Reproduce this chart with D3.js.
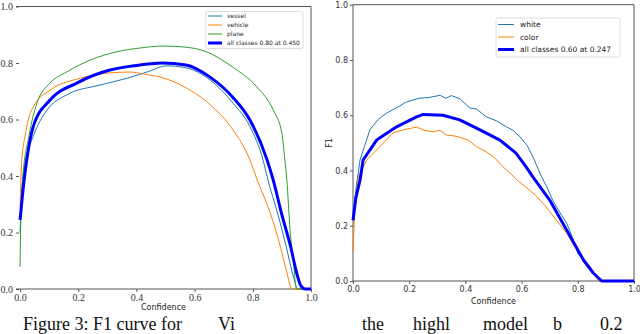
<!DOCTYPE html>
<html>
<head>
<meta charset="utf-8">
<script src="https://cdn.jsdelivr.net/npm/d3@7"></script>
<style>
  body { margin: 0; background: #fff; }
  svg { display: block; }
</style>
</head>
<body>
<svg id="chart" width="640" height="334"></svg>
<script>
// tick values shared by both panels
const ticks = [0, 0.2, 0.4, 0.6, 0.8, 1.0];

// left panel: [confidence, F1]
const vessel = [[0, 0.2], [0.005, 0.33], [0.017, 0.446], [0.045, 0.54], [0.093, 0.634], [0.16, 0.687],
    [0.275, 0.722], [0.368, 0.746], [0.436, 0.768], [0.505, 0.79], [0.574, 0.782], [0.653, 0.74],
    [0.732, 0.658], [0.79, 0.575], [0.835, 0.457], [0.852, 0.386], [0.885, 0.269], [0.915, 0.149],
    [0.94, 0.042], [0.955, 0], [1, 0]];
const vehicle = [[0, 0.29], [0.006, 0.457], [0.017, 0.54], [0.028, 0.598], [0.045, 0.644], [0.103, 0.704],
    [0.195, 0.743], [0.31, 0.765], [0.378, 0.768], [0.424, 0.761], [0.505, 0.743], [0.584, 0.704],
    [0.663, 0.644], [0.732, 0.563], [0.79, 0.457], [0.815, 0.386], [0.86, 0.269], [0.895, 0.149],
    [0.915, 0.067], [0.935, 0], [1, 0]];
const plane = [[0, 0.078], [0.002, 0.22], [0.01, 0.4], [0.03, 0.54], [0.058, 0.658], [0.103, 0.729],
    [0.16, 0.768], [0.24, 0.81], [0.333, 0.84], [0.412, 0.853], [0.49, 0.86], [0.56, 0.857],
    [0.64, 0.84], [0.73, 0.786], [0.814, 0.715], [0.87, 0.634], [0.9, 0.552], [0.91, 0.457],
    [0.917, 0.386], [0.928, 0.209], [0.94, 0.092], [0.95, 0], [1, 0]];
const allLeft = [[0, 0.245], [0.008, 0.33], [0.023, 0.457], [0.045, 0.574], [0.103, 0.669], [0.195, 0.729],
    [0.309, 0.775], [0.39, 0.79], [0.49, 0.8], [0.57, 0.793], [0.653, 0.75], [0.73, 0.68],
    [0.79, 0.598], [0.849, 0.457], [0.87, 0.386], [0.9, 0.262], [0.93, 0.15], [0.95, 0.06],
    [0.965, 0.012], [0.98, 0], [1, 0]];

// right panel
const white = [[0, 0.22], [0.01, 0.33], [0.025, 0.438], [0.06, 0.547], [0.09, 0.585], [0.12, 0.608],
    [0.16, 0.63], [0.19, 0.648], [0.238, 0.662], [0.27, 0.664], [0.31, 0.672], [0.33, 0.661],
    [0.35, 0.671], [0.38, 0.66], [0.416, 0.626], [0.44, 0.622], [0.475, 0.594], [0.51, 0.58],
    [0.546, 0.558], [0.57, 0.545], [0.594, 0.522], [0.62, 0.49], [0.64, 0.45], [0.671, 0.377],
    [0.69, 0.34], [0.712, 0.29], [0.735, 0.25], [0.76, 0.21], [0.78, 0.16], [0.8, 0.1],
    [0.82, 0.076], [0.855, 0.029], [0.885, 0], [1, 0]];
const color = [[0, 0.11], [0.008, 0.3], [0.02, 0.38], [0.05, 0.44], [0.096, 0.486], [0.142, 0.536],
    [0.178, 0.547], [0.226, 0.557], [0.255, 0.545], [0.285, 0.54], [0.31, 0.545], [0.333, 0.528],
    [0.36, 0.525], [0.38, 0.52], [0.41, 0.51], [0.44, 0.486], [0.47, 0.47], [0.5, 0.45],
    [0.534, 0.413], [0.559, 0.39], [0.59, 0.36], [0.616, 0.339], [0.65, 0.31], [0.687, 0.269],
    [0.72, 0.225], [0.76, 0.174], [0.785, 0.13], [0.808, 0.1], [0.843, 0.052], [0.867, 0.01],
    [0.875, 0], [1, 0]];
const allRight = [[0, 0.22], [0.01, 0.3], [0.025, 0.365], [0.036, 0.438], [0.084, 0.51], [0.155, 0.558],
    [0.226, 0.594], [0.25, 0.603], [0.32, 0.6], [0.38, 0.583], [0.452, 0.547], [0.523, 0.51],
    [0.58, 0.463], [0.616, 0.413], [0.64, 0.377], [0.7, 0.293], [0.76, 0.185], [0.82, 0.076],
    [0.855, 0.029], [0.885, 0], [1, 0]];

const leftLabels = ['vessel', 'vehicle', 'plane', 'all classes 0.80 at 0.450'];
const rightLabels = ['white', 'color', 'all classes 0.60 at 0.247'];

const svg = d3.select('#chart');

function drawPanel(opt) {
    const g = svg.append('g');
    const x = d3.scaleLinear().domain(opt.xDomain).range([opt.left, opt.right]);
    const y = d3.scaleLinear().domain([0, 1]).range([opt.bottom, opt.top]);

    // spines
    const spines = [
        [opt.left, opt.top, opt.right, opt.top],
        [opt.right, opt.top, opt.right, opt.bottom],
        [opt.left, opt.bottom, opt.right, opt.bottom]
    ];
    if (opt.leftSpine) spines.push([opt.left, opt.top, opt.left, opt.bottom]);
    g.selectAll('.spine').data(spines).enter().append('line')
        .attr('x1', d => d[0]).attr('y1', d => d[1]).attr('x2', d => d[2]).attr('y2', d => d[3])
        .attr('stroke', '#555').attr('stroke-width', 1);

    const xAxis = g.append('g')
        .attr('transform', `translate(0, ${opt.bottom})`)
        .call(d3.axisBottom(x).tickValues(ticks).tickFormat(d3.format('.1f')).tickSize(3).tickPadding(2));
    xAxis.select('.domain').remove();
    xAxis.selectAll('line').attr('stroke', '#555');
    xAxis.selectAll('text').attr('fill', '#333')
        .style('font-family', opt.tickFont).style('font-size', opt.tickSize + 'px');

    const yAxis = g.append('g')
        .attr('transform', `translate(${opt.yAxisX}, 0)`)
        .call(d3.axisLeft(y).tickValues(ticks).tickFormat(d3.format('.1f')).tickSize(3).tickPadding(opt.yPad));
    yAxis.select('.domain').remove();
    yAxis.selectAll('line').attr('stroke', '#555');
    yAxis.selectAll('text').attr('fill', '#333')
        .style('font-family', opt.tickFont).style('font-size', opt.tickSize + 'px');

    const line = d3.line()
        .x(d => x(d[0]))
        .y(d => y(d[1]))
        .curve(opt.curve);

    opt.series.forEach(s => {
        g.append('path')
            .datum(s.data)
            .attr('fill', 'none')
            .attr('stroke', s.color)
            .attr('stroke-width', s.width)
            .attr('stroke-linejoin', 'round')
            .attr('d', line);
    });

    g.append('text')
        .attr('x', (opt.left + opt.right) / 2)
        .attr('y', opt.xLabelY)
        .attr('text-anchor', 'middle')
        .style('font-family', 'DejaVu Sans')
        .style('font-size', '8px')
        .attr('fill', '#222')
        .text('Confidence');

    // legend
    const lg = opt.legend;
    g.append('rect')
        .attr('x', lg.x).attr('y', lg.y).attr('width', lg.w).attr('height', lg.h)
        .attr('fill', '#fff').attr('stroke', '#ddd').attr('rx', 1.5);
    opt.series.forEach((s, i) => {
        const ry = lg.y + lg.first + i * lg.step;
        g.append('line')
            .attr('x1', lg.x + 2).attr('x2', lg.x + 2 + lg.len)
            .attr('y1', ry).attr('y2', ry)
            .attr('stroke', s.color).attr('stroke-width', s.width);
        g.append('text')
            .attr('x', lg.x + lg.textX).attr('y', ry)
            .attr('dy', '0.35em')
            .style('font-family', 'DejaVu Sans')
            .style('font-size', lg.font + 'px')
            .attr('fill', '#222')
            .text(s.label);
    });
    return g;
}

drawPanel({
    xDomain: [-0.014, 1], left: 16, right: 311, top: 6.5, bottom: 289,
    yAxisX: 19, yPad: 3, leftSpine: false,
    tickFont: 'Liberation Serif', tickSize: 10, xLabelY: 310,
    curve: d3.curveMonotoneX,
    series: [
        { data: vessel, color: '#1f77b4', width: 1, label: leftLabels[0] },
        { data: vehicle, color: '#ff7f0e', width: 1, label: leftLabels[1] },
        { data: plane, color: '#2ca02c', width: 1, label: leftLabels[2] },
        { data: allLeft, color: '#0000ff', width: 3, label: leftLabels[3] }
    ],
    legend: { x: 206, y: 11.5, w: 97, h: 37, first: 4.5, step: 9, len: 14, textX: 21, font: 6 }
});

const right = drawPanel({
    xDomain: [0, 1], left: 353, right: 634, top: 4.7, bottom: 281,
    yAxisX: 353, yPad: 2, leftSpine: true,
    tickFont: 'DejaVu Sans', tickSize: 8, xLabelY: 304,
    curve: d3.curveLinear,
    series: [
        { data: white, color: '#1f77b4', width: 1, label: rightLabels[0] },
        { data: color, color: '#ff7f0e', width: 1, label: rightLabels[1] },
        { data: allRight, color: '#0000ff', width: 3, label: rightLabels[2] }
    ],
    legend: { x: 496, y: 18, w: 124, h: 39, first: 6.5, step: 12.5, len: 16, textX: 24, font: 7.5 }
});

right.append('text')
    .attr('transform', 'translate(332, 143) rotate(-90)')
    .attr('text-anchor', 'middle')
    .style('font-family', 'DejaVu Sans')
    .style('font-size', '8px')
    .attr('fill', '#222')
    .text('F1');

// caption along the bottom edge
const caption = [
    { t: 'Figure 3: F1 curve for', x: 23 },
    { t: 'Vi', x: 218 },
    { t: 'the', x: 362 },
    { t: 'highl', x: 413 },
    { t: 'model', x: 483 },
    { t: 'b', x: 553 },
    { t: '0.2', x: 600 }
];
svg.selectAll('.cap').data(caption).enter().append('text')
    .attr('x', d => d.x).attr('y', 330)
    .style('font-family', 'Liberation Serif')
    .style('font-size', '18px')
    .attr('fill', '#111')
    .text(d => d.t);
</script>
</body>
</html>
